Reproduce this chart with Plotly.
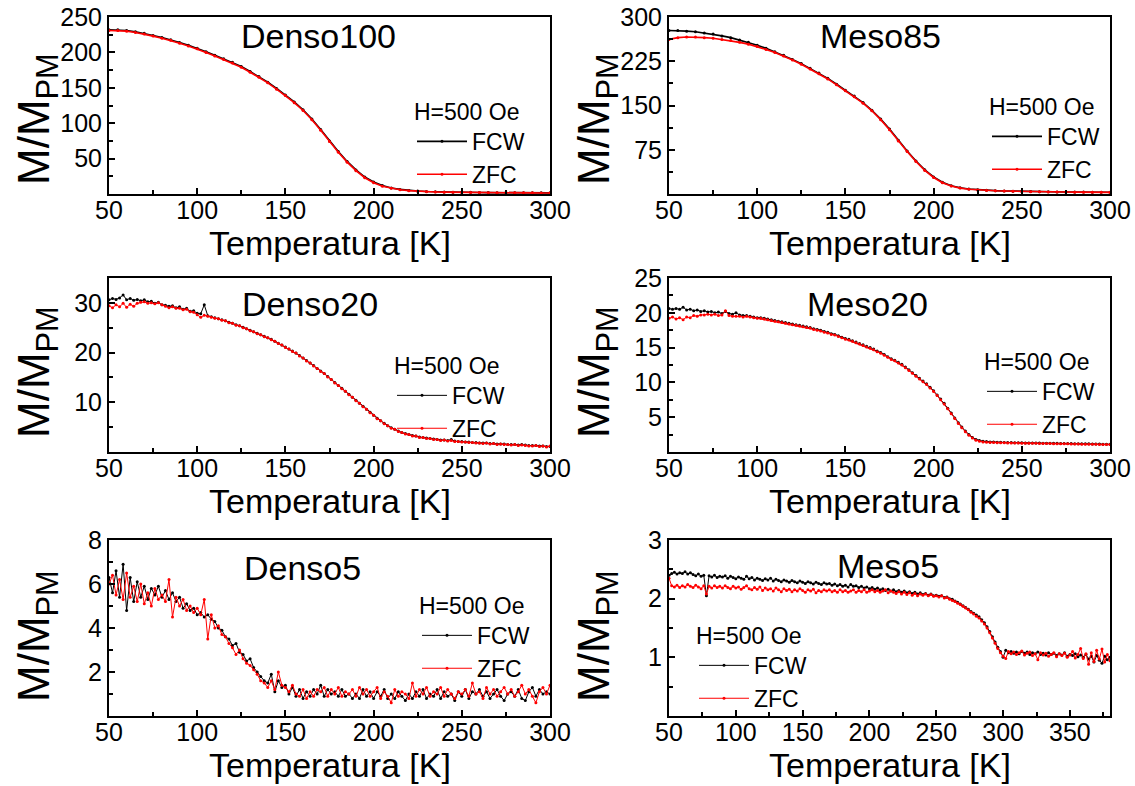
import plotly.graph_objects as go

# ---------------- measured data ----------------
# Temperature grids of each sweep (K)
temp_5k = list(range(50, 301, 5))
temp_2k = list(range(50, 301, 2))
temp_2k_meso5 = list(range(50, 381, 2))

# Denso100 (5 K steps)
denso100_fcw = [232, 232, 231, 229, 227, 224, 221, 218, 214, 210,
                206, 201, 196, 191, 186, 180, 173, 166, 158, 149,
                140, 130, 119, 106, 91, 75, 60, 46, 34, 24,
                17, 12, 8.5, 6.5, 5.0, 4.2, 3.6, 3.2, 2.9, 2.6,
                2.4, 2.3, 2.1, 2.0, 1.9, 1.8, 1.8, 1.7, 1.7, 1.6,
                1.6]
denso100_zfc = [231, 231, 230, 228, 226, 223, 220, 217, 213, 209,
                205, 200, 195, 190, 185, 179, 172, 165, 157, 148,
                139, 129, 118, 105, 90, 74, 59, 45, 33, 23,
                16, 11, 8.0, 6.0, 4.7, 3.9, 3.3, 2.9, 2.6, 2.4,
                2.2, 2.1, 2.0, 1.9, 1.8, 1.7, 1.7, 1.6, 1.6, 1.5,
                1.5]

# Meso85 (5 K steps)
meso85_fcw = [277, 277, 276, 275, 273, 271, 268, 265, 261, 257,
              252, 247, 241, 235, 228, 221, 213, 205, 196, 186,
              176, 166, 155, 142, 127, 110, 91, 73, 56, 41,
              29, 20, 14, 10.5, 8.5, 7.2, 6.3, 5.7, 5.2, 4.8,
              4.5, 4.2, 4.0, 3.8, 3.6, 3.5, 3.3, 3.2, 3.1, 3.0,
              2.9]
meso85_zfc = [262, 265, 266, 266, 265, 264, 262, 260, 257, 254,
              250, 245, 240, 234, 227, 220, 212, 204, 195, 185,
              175, 165, 154, 141, 126, 109, 90, 72, 55, 40,
              28, 19, 13.5, 10, 8.0, 6.8, 6.0, 5.4, 5.0, 4.6,
              4.3, 4.0, 3.8, 3.6, 3.4, 3.3, 3.1, 3.0, 2.9, 2.8,
              2.7]

# Denso20 (2 K steps)
denso20_fcw = [30.6, 30.9, 30.7, 31.0, 31.6, 30.6, 30.9, 30.5, 30.7, 30.4,
               30.6, 30.2, 30.3, 29.9, 30.1, 29.6, 29.5, 29.3, 29.4, 29.0,
               29.2, 28.7, 28.9, 28.3, 28.4, 27.9, 27.8, 29.6, 27.4, 27.2,
               27.0, 26.8, 26.6, 26.4, 26.1, 25.9, 25.6, 25.4, 25.1, 24.8,
               24.5, 24.2, 23.9, 23.6, 23.3, 23.0, 22.7, 22.3, 21.9, 21.5,
               21.1, 20.7, 20.3, 19.9, 19.4, 18.9, 18.4, 17.9, 17.4, 16.8,
               16.3, 15.8, 15.2, 14.6, 14.0, 13.4, 12.8, 12.2, 11.6, 11.0,
               10.4, 9.8, 9.2, 8.6, 8.0, 7.4, 6.8, 6.3, 5.8, 5.3,
               4.9, 4.6, 4.2, 3.9, 3.7, 3.5, 3.3, 3.2, 3.0, 2.9,
               2.8, 2.7, 2.6, 2.5, 2.4, 2.4, 2.3, 2.5, 2.2, 2.1,
               2.1, 2.0, 2.0, 1.9, 1.9, 1.8, 1.8, 1.8, 1.7, 1.7,
               1.6, 1.6, 1.6, 1.5, 1.5, 1.5, 1.4, 1.5, 1.4, 1.3,
               1.3, 1.3, 1.2, 1.2, 1.1, 1.1]
denso20_zfc = [29.4, 29.0, 29.6, 29.2, 29.9, 29.1, 29.7, 29.3, 29.9, 30.1,
               30.2, 29.9, 30.0, 29.8, 30.0, 29.6, 29.3, 29.0, 29.2, 28.9,
               28.9, 28.6, 28.7, 28.2, 28.1, 27.6, 27.1, 27.5, 27.3, 27.1,
               26.9, 26.8, 26.5, 26.4, 26.0, 25.9, 25.5, 25.4, 25.0, 24.8,
               24.4, 24.2, 23.8, 23.6, 23.2, 23.0, 22.6, 22.3, 21.8, 21.5,
               21.0, 20.7, 20.2, 19.9, 19.3, 18.9, 18.3, 17.9, 17.3, 16.8,
               16.2, 15.8, 15.1, 14.6, 13.9, 13.4, 12.7, 12.2, 11.5, 11.0,
               10.3, 9.8, 9.1, 8.6, 7.9, 7.4, 6.7, 6.3, 5.7, 5.3,
               4.8, 4.6, 4.1, 3.9, 3.6, 3.5, 3.2, 3.2, 2.9, 2.9,
               2.7, 2.7, 2.5, 2.5, 2.3, 2.4, 2.2, 2.3, 2.1, 2.1,
               2.0, 2.0, 1.9, 1.9, 1.8, 1.8, 1.7, 1.8, 1.6, 1.7,
               1.5, 1.6, 1.5, 1.5, 1.4, 1.5, 1.3, 1.4, 1.3, 1.2,
               1.2, 1.3, 1.1, 1.2, 1.0, 1.2]

# Meso20 (2 K steps)
meso20_fcw = [20.6, 20.5, 20.6, 20.5, 20.8, 20.4, 20.5, 20.3, 20.4, 20.2,
              20.3, 20.1, 20.2, 20.0, 20.1, 19.9, 20.2, 19.9, 19.8, 20.0,
              19.7, 19.6, 19.6, 19.5, 19.4, 19.3, 19.3, 19.2, 19.1, 19.0,
              18.9, 18.8, 18.7, 18.6, 18.5, 18.4, 18.3, 18.2, 18.1, 18.0,
              17.9, 17.7, 17.6, 17.5, 17.3, 17.2, 17.0, 16.9, 16.7, 16.5,
              16.3, 16.2, 16.0, 15.8, 15.6, 15.4, 15.2, 15.0, 14.8, 14.5,
              14.3, 14.0, 13.7, 13.4, 13.2, 12.9, 12.6, 12.2, 11.8, 11.4,
              11.0, 10.6, 10.2, 9.8, 9.3, 8.8, 8.2, 7.6, 7.0, 6.3,
              5.6, 4.9, 4.2, 3.6, 3.0, 2.5, 2.1, 1.8, 1.65, 1.55,
              1.5, 1.45, 1.42, 1.4, 1.4, 1.38, 1.36, 1.35, 1.34, 1.33,
              1.32, 1.31, 1.3, 1.3, 1.29, 1.28, 1.27, 1.27, 1.26, 1.25,
              1.24, 1.23, 1.22, 1.22, 1.21, 1.2, 1.19, 1.18, 1.18, 1.17,
              1.16, 1.15, 1.14, 1.13, 1.12, 1.1]
meso20_zfc = [19.2, 19.4, 19.1, 19.3, 19.0, 19.4, 19.3, 19.6, 19.5, 19.7,
              19.7, 19.8, 19.7, 19.8, 19.6, 19.7, 20.3, 19.6, 19.5, 19.5,
              19.5, 19.4, 19.5, 19.4, 19.3, 19.2, 19.2, 19.1, 19.0, 18.9,
              18.8, 18.7, 18.6, 18.5, 18.4, 18.3, 18.2, 18.1, 18.0, 17.9,
              17.8, 17.6, 17.5, 17.4, 17.2, 17.1, 16.9, 16.8, 16.6, 16.4,
              16.2, 16.1, 15.9, 15.7, 15.5, 15.3, 15.1, 14.9, 14.7, 14.4,
              14.2, 13.9, 13.6, 13.3, 13.1, 12.8, 12.5, 12.1, 11.7, 11.3,
              10.9, 10.5, 10.1, 9.7, 9.2, 8.7, 8.1, 7.5, 6.9, 6.2,
              5.5, 4.8, 4.1, 3.5, 2.9, 2.4, 2.0, 1.7, 1.55, 1.45,
              1.4, 1.38, 1.36, 1.34, 1.33, 1.32, 1.3, 1.3, 1.29, 1.28,
              1.27, 1.26, 1.26, 1.25, 1.24, 1.23, 1.22, 1.22, 1.21, 1.2,
              1.19, 1.18, 1.17, 1.17, 1.16, 1.15, 1.14, 1.13, 1.13, 1.12,
              1.11, 1.1, 1.09, 1.08, 1.07, 1.06]

# Denso5 (2 K steps)
denso5_fcw = [6.3, 5.6, 6.6, 5.4, 6.9, 4.8, 6.3, 5.2, 6.1, 5.4,
              5.9, 5.3, 5.8, 5.5, 5.9, 5.4, 5.7, 5.3, 5.6, 5.2,
              5.4, 4.9, 5.1, 4.8, 4.9, 4.6, 4.7, 4.5, 4.6, 4.4,
              4.3, 4.0, 3.9, 3.6, 3.5, 3.2, 3.3, 2.9, 2.8, 2.5,
              2.6, 2.2, 2.0, 1.8, 1.6, 1.5, 1.9, 1.1, 1.6, 1.3,
              1.4, 1.0, 1.3, 0.9, 1.2, 0.8, 1.1, 0.9, 1.2, 1.0,
              1.4, 0.9, 1.2, 1.0, 1.1, 0.9, 1.2, 0.9, 1.0, 0.8,
              1.0, 0.8, 1.2, 0.9, 1.1, 0.8, 1.1, 0.9, 1.2, 0.8,
              1.0, 0.8, 1.1, 0.9, 0.7, 1.0, 0.8, 1.1, 0.9, 1.2,
              0.8, 1.0, 0.9, 1.2, 0.8, 1.1, 0.9, 1.0, 0.7, 1.1,
              0.9, 1.2, 0.8, 1.1, 1.0, 1.2, 0.9, 1.1, 0.8, 1.0,
              1.2, 0.9, 0.7, 1.0, 1.1, 0.9, 1.2, 0.8, 0.7, 1.1,
              1.3, 0.9, 1.2, 1.0, 1.1, 1.0]
denso5_zfc = [6.0, 6.4, 5.5, 6.2, 5.3, 6.5, 5.4, 5.9, 5.2, 6.0,
              5.1, 5.6, 5.0, 5.8, 5.3, 5.5, 5.2, 6.2, 4.5, 5.4,
              5.0, 5.3, 4.8, 5.0, 4.7, 4.9, 4.6, 5.3, 3.5, 4.6,
              4.0, 4.1, 3.7, 3.6, 3.3, 3.1, 2.8, 3.0, 2.6, 2.4,
              2.3, 2.1, 1.9, 1.6, 1.5, 1.3, 1.6, 1.2, 2.0, 1.4,
              1.3, 1.1, 1.4, 1.0, 0.9, 1.2, 0.8, 1.1, 0.9, 1.2,
              1.1, 1.3, 0.9, 1.2, 1.0, 1.3, 0.9, 1.1, 1.0, 1.2,
              0.9, 1.3, 1.0, 1.2, 0.9, 1.1, 1.3, 0.8, 1.1, 0.9,
              0.6, 1.2, 0.9, 1.1, 1.0, 0.8, 1.5, 0.9, 1.2, 1.0,
              1.3, 0.9, 1.1, 1.0, 1.3, 0.9, 1.2, 1.0, 0.8, 1.1,
              1.0, 1.2, 0.9, 1.5, 1.0, 1.1, 0.8, 1.3, 1.0, 1.2,
              0.9, 1.1, 1.3, 1.0, 1.2, 0.9, 1.1, 1.4, 1.0, 1.2,
              0.9, 0.6, 1.1, 1.3, 1.0, 1.4]

# Meso5 (2 K steps, up to 380 K)
meso5_fcw = [2.40, 2.43, 2.45, 2.42, 2.44, 2.43, 2.46, 2.42, 2.44, 2.41,
             2.39, 2.42, 2.38, 2.40, 2.05, 2.39, 2.37, 2.40, 2.36, 2.38,
             2.37, 2.39, 2.35, 2.38, 2.36, 2.34, 2.37, 2.35, 2.33, 2.38,
             2.34, 2.36, 2.32, 2.35, 2.33, 2.31, 2.34, 2.32, 2.35, 2.30,
             2.33, 2.31, 2.29, 2.32, 2.30, 2.28, 2.31, 2.29, 2.27, 2.30,
             2.28, 2.26, 2.29, 2.27, 2.25, 2.28, 2.26, 2.24, 2.27, 2.25,
             2.26, 2.23, 2.25, 2.22, 2.24, 2.21, 2.23, 2.20, 2.24, 2.21,
             2.22, 2.19, 2.21, 2.18, 2.20, 2.17, 2.19, 2.16, 2.18, 2.15,
             2.17, 2.14, 2.16, 2.13, 2.15, 2.12, 2.14, 2.11, 2.13, 2.10,
             2.12, 2.09, 2.11, 2.08, 2.10, 2.07, 2.09, 2.06, 2.08, 2.05,
             2.06, 2.04, 2.05, 2.02, 2.03, 2.00, 1.99, 1.96, 1.94, 1.91,
             1.88, 1.85, 1.82, 1.78, 1.75, 1.72, 1.69, 1.64, 1.59, 1.52,
             1.44, 1.35, 1.26, 1.17, 1.10, 1.00, 1.12, 1.08, 1.10, 1.07,
             1.09, 1.06, 1.10, 1.07, 1.09, 1.05, 1.08, 1.06, 1.09, 1.05,
             1.07, 1.04, 1.08, 1.05, 1.07, 1.03, 1.06, 1.04, 1.08, 1.02,
             1.05, 1.03, 1.06, 1.01, 1.04, 1.00, 1.05, 0.97, 1.02, 0.92,
             1.03, 0.95, 0.90, 1.02, 0.96, 1.00]
meso5_zfc = [2.35, 2.22, 2.20, 2.23, 2.19, 2.22, 2.20, 2.24, 2.21, 2.19,
             2.23, 2.20, 2.17, 2.22, 2.08, 2.21, 2.18, 2.22, 2.19, 2.21,
             2.18, 2.22, 2.19, 2.17, 2.21, 2.18, 2.20, 2.16, 2.19, 2.22,
             2.17, 2.15, 2.19, 2.16, 2.20, 2.14, 2.18, 2.15, 2.17, 2.13,
             2.18, 2.15, 2.12, 2.17, 2.14, 2.16, 2.12, 2.15, 2.13, 2.17,
             2.14, 2.11, 2.15, 2.13, 2.16, 2.10, 2.14, 2.12, 2.15, 2.13,
             2.15, 2.12, 2.14, 2.11, 2.15, 2.12, 2.14, 2.11, 2.13, 2.15,
             2.11, 2.14, 2.12, 2.15, 2.11, 2.13, 2.15, 2.12, 2.14, 2.11,
             2.13, 2.15, 2.10, 2.13, 2.11, 2.09, 2.12, 2.08, 2.11, 2.07,
             2.10, 2.06, 2.09, 2.05, 2.08, 2.06, 2.08, 2.05, 2.07, 2.04,
             2.05, 2.03, 2.05, 2.01, 2.02, 1.99, 1.97, 1.95, 1.92, 1.90,
             1.87, 1.84, 1.81, 1.77, 1.74, 1.70, 1.67, 1.62, 1.57, 1.50,
             1.42, 1.33, 1.24, 1.15, 1.08, 1.02, 0.98, 1.10, 1.06, 1.09,
             1.05, 1.08, 1.11, 1.04, 1.07, 1.09, 1.03, 1.06, 0.96, 1.08,
             1.04, 1.07, 1.02, 1.05, 1.08, 1.01, 1.06, 1.03, 1.07, 1.00,
             1.04, 1.10, 0.99, 1.05, 1.15, 0.98, 1.06, 0.88, 1.08, 0.93,
             1.12, 0.97, 1.14, 0.92, 1.05, 0.94]

# Axis ticks per panel
x_ticks = [50, 100, 150, 200, 250, 300]
x_minor = [75, 125, 175, 225, 275]
x_ticks_meso5 = [50, 100, 150, 200, 250, 300, 350]
x_minor_meso5 = [75, 125, 175, 225, 275, 325, 375]

panels = [
    dict(name="Denso100", t=temp_5k, fcw=denso100_fcw, zfc=denso100_zfc,
         xr=[50, 300], xt=x_ticks, xm=x_minor,
         yr=[0, 250], yt=[50, 100, 150, 200, 250], ym=[25, 75, 125, 175, 225]),
    dict(name="Meso85", t=temp_5k, fcw=meso85_fcw, zfc=meso85_zfc,
         xr=[50, 300], xt=x_ticks, xm=x_minor,
         yr=[0, 300], yt=[75, 150, 225, 300], ym=[37.5, 112.5, 187.5, 262.5]),
    dict(name="Denso20", t=temp_2k, fcw=denso20_fcw, zfc=denso20_zfc,
         xr=[50, 300], xt=x_ticks, xm=x_minor,
         yr=[0, 35], yt=[10, 20, 30], ym=[5, 15, 25]),
    dict(name="Meso20", t=temp_2k, fcw=meso20_fcw, zfc=meso20_zfc,
         xr=[50, 300], xt=x_ticks, xm=x_minor,
         yr=[0, 25], yt=[5, 10, 15, 20, 25], ym=[2.5, 7.5, 12.5, 17.5, 22.5]),
    dict(name="Denso5", t=temp_2k, fcw=denso5_fcw, zfc=denso5_zfc,
         xr=[50, 300], xt=x_ticks, xm=x_minor,
         yr=[0, 8], yt=[2, 4, 6, 8], ym=[1, 3, 5, 7]),
    dict(name="Meso5", t=temp_2k_meso5, fcw=meso5_fcw, zfc=meso5_zfc,
         xr=[50, 380], xt=x_ticks_meso5, xm=x_minor_meso5,
         yr=[0, 3], yt=[1, 2, 3], ym=[0.5, 1.5, 2.5]),
]

# ---------------- layout geometry (pixels of a 1135x786 page) ----------------
W, H = 1135, 786
col_px = [(109, 550), (669, 1110)]
row_px = [(17, 194), (278, 452), (540, 716)]
xtitle_y = [243, 501, 765]
title_px = [(318, 36), (880, 36), (310, 304), (867, 304), (302, 568), (888, 566)]
ytitle_px = [(37, 119), (597, 119), (37, 372), (597, 372), (37, 636), (597, 636)]
legend_px = [(412, 90), (987, 85), (392, 344), (982, 340), (417, 584), (694, 614)]

FONT = "Liberation Sans, Arial, sans-serif"

fig = go.Figure()
layout = dict(
    width=W, height=H,
    margin=dict(l=0, r=0, t=0, b=0, autoexpand=False),
    paper_bgcolor="white", plot_bgcolor="white",
    font=dict(family=FONT, color="black"),
    showlegend=True,
    annotations=[],
)

for i, p in enumerate(panels):
    k = i + 1
    suffix = "" if k == 1 else str(k)
    leg = "legend" + suffix
    r, c = divmod(i, 2)
    x0, x1 = col_px[c]
    ytop, ybot = row_px[r]
    smooth = p["t"] is temp_5k

    fig.add_trace(go.Scatter(
        x=p["t"], y=p["fcw"], name="FCW", mode="lines+markers",
        line=dict(color="black", width=1.6 if smooth else 1),
        marker=dict(color="black", size=3),
        xaxis="x" + suffix, yaxis="y" + suffix, legend=leg))
    fig.add_trace(go.Scatter(
        x=p["t"], y=p["zfc"], name="ZFC", mode="lines+markers",
        line=dict(color="#ff0000", width=1.6 if smooth else 1),
        marker=dict(color="#ff0000", size=3),
        xaxis="x" + suffix, yaxis="y" + suffix, legend=leg))

    common = dict(
        showline=True, linecolor="black", linewidth=2, mirror=True,
        ticks="inside", ticklen=6, tickwidth=1.5, tickcolor="black",
        showgrid=False, zeroline=False, automargin=False,
        tickfont=dict(family=FONT, size=25, color="black"),
        tickmode="array",
    )
    layout["xaxis" + suffix] = dict(
        common, domain=[x0 / W, x1 / W], range=p["xr"], tickvals=p["xt"],
        anchor="y" + suffix, ticklabelstandoff=-7,
        minor=dict(ticks="inside", ticklen=4, tickwidth=1.5, tickcolor="black",
                   tickmode="array", tickvals=p["xm"]),
    )
    layout["yaxis" + suffix] = dict(
        common, domain=[1 - ybot / H, 1 - ytop / H], range=p["yr"], tickvals=p["yt"],
        anchor="x" + suffix,
        minor=dict(ticks="inside", ticklen=4, tickwidth=1.5, tickcolor="black",
                   tickmode="array", tickvals=p["ym"]),
    )

    # panel name
    tx, ty = title_px[i]
    layout["annotations"].append(dict(
        text=p["name"], x=tx / W, y=1 - ty / H, xref="paper", yref="paper",
        xanchor="center", yanchor="middle", showarrow=False,
        font=dict(family=FONT, size=34, color="black")))
    # axis titles
    layout["annotations"].append(dict(
        text="Temperatura [K]", x=(x0 + x1) / 2 / W, y=1 - xtitle_y[r] / H,
        xref="paper", yref="paper", xanchor="center", yanchor="middle",
        showarrow=False, font=dict(family=FONT, size=34, color="black")))
    yx, yy = ytitle_px[i]
    layout["annotations"].append(dict(
        text="M/M<sub>PM</sub>", x=yx / W, y=1 - yy / H, xref="paper", yref="paper",
        xanchor="center", yanchor="middle", showarrow=False, textangle=-90,
        font=dict(family=FONT, size=44, color="black")))

    lx, ly = legend_px[i]
    layout[leg] = dict(
        x=lx / W, y=1 - ly / H, xref="paper", yref="paper",
        xanchor="left", yanchor="top",
        bgcolor="rgba(0,0,0,0)", borderwidth=0,
        font=dict(family=FONT, size=23, color="black"),
        title=dict(text="H=500 Oe", font=dict(family=FONT, size=23, color="black")),
        itemwidth=50, tracegroupgap=0,
    )

fig.update_layout(**layout)
fig.write_html("out.html")
